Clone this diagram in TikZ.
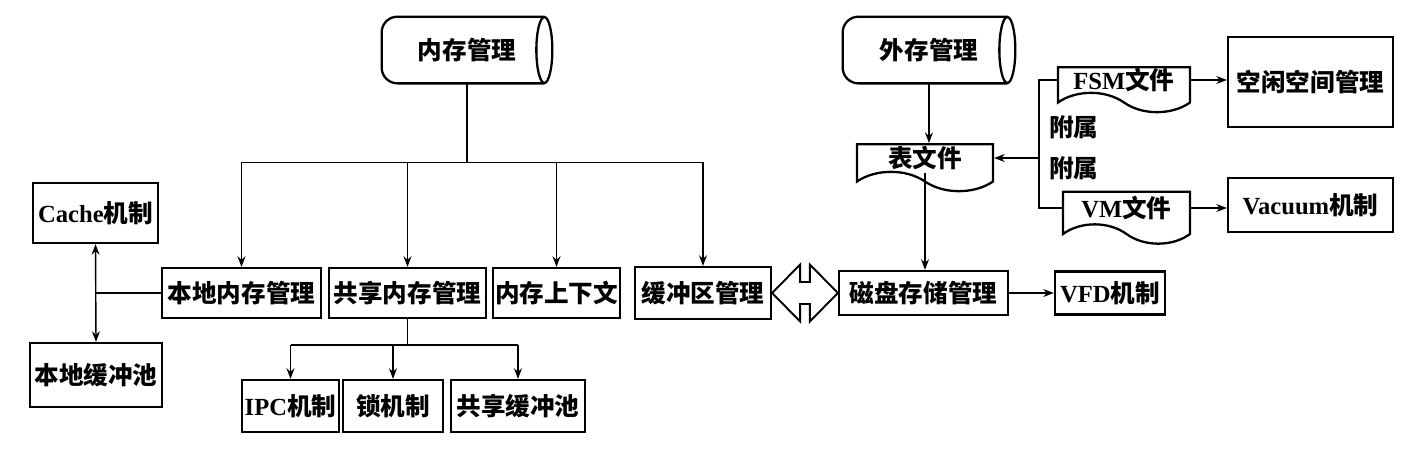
\documentclass[tikz,border=0pt]{standalone}
\usepackage{fontspec}
\setmainfont{Noto Sans CJK SC}
\newfontfamily\enfont{Liberation Serif}
\newcommand{\en}[1]{{\enfont #1}}
\usetikzlibrary{shapes.symbols,arrows.meta,calc}

% 圆柱轮廓
\newcommand{\drumline}[1]{%
    \draw[line width=1.3pt, rounded corners=9pt] ($(#1.north east)+(-8,0)$) -- (#1.north west)
        -- (#1.south west) -- ($(#1.south east)+(-8,0)$);
    \draw[line width=1.3pt] ($(#1.east)+(-8,0)$) ellipse [x radius=0.16cm, y radius=0.66cm];}

\begin{document}
\begin{tikzpicture}[x=0.02cm,y=-0.02cm,
    sz/.style 2 args={minimum width=#1*0.02cm, minimum height=#2*0.02cm},
    txt/.style={font=\fontsize{14}{16}\selectfont\bfseries},
    box/.style={txt, draw, line width=1.3pt, inner sep=0pt},
    drum/.style={txt, inner sep=0pt},
    doc/.style={box, tape, tape bend top=none, tape bend bottom=out and in, tape bend height=11pt},
    line/.style={line width=0.8pt},
    arr/.style={line, -{Stealth[length=6pt,width=4.5pt]}},
    dblarr/.style={line, {Stealth[length=6pt,width=4.5pt]}-{Stealth[length=6pt,width=4.5pt]}}]
    \useasboundingbox (0,0) rectangle (1418,458);

    % 内存
    \node[drum, sz={170}{66}] (memcyl) at (467,50) {内存管理};
    \drumline{memcyl}
    \node[box, sz={159}{50}] (local)  at (241.5,293) {本地内存管理};
    \node[box, sz={157}{50}] (shared) at (407.5,293) {共享内存管理};
    \node[box, sz={127}{50}] (ctx)    at (556.5,293) {内存上下文};
    \node[box, sz={136}{52}] (buf)    at (703,293)   {缓冲区管理};
    \node[box, sz={125}{60}] (cache)  at (95.5,213)  {\en{Cache}机制};
    \node[box, sz={132}{64}] (lpool)  at (96,375)    {本地缓冲池};
    \node[box, sz={97}{52}]  (ipc)    at (290.5,406) {\en{IPC}机制};
    \node[box, sz={100}{52}] (lock)   at (393,406)   {锁机制};
    \node[box, sz={134}{52}] (spool)  at (518,406)   {共享缓冲池};

    \coordinate (membus) at ($(memcyl.south)+(0,79)$);
    \draw[line] (memcyl.south) -- (membus);
    \draw[line] (local.north |- membus) -- (buf.north |- membus);
    \foreach \n in {local, shared, ctx, buf} {
        \draw[arr] (\n.north |- membus) -- (\n.north);
    }

    \coordinate (lj) at (cache.south |- local.west);
    \draw[line] (local.west) -- (lj);
    \draw[dblarr] (cache.south) -- (lpool.north);

    \coordinate (sbus) at ($(shared.south)+(0,26)$);
    \draw[line] (shared.south) -- (sbus);
    \draw[line] (ipc.north |- sbus) -- (spool.north |- sbus);
    \foreach \n in {ipc, lock, spool} {
        \draw[arr] (\n.north |- sbus) -- (\n.north);
    }

    % 外存
    \node[drum, sz={172}{66}] (extcyl) at (929,50) {外存管理};
    \drumline{extcyl}
    \node[doc, sz={136}{47}] (table) at (925,158) {表文件};
    \node[doc, sz={132}{45}] (fsm)   at (1124,80) {\en{FSM}文件};
    \node[doc, sz={127}{52}] (vm)    at (1126.5,208) {\en{VM}文件};
    \node[box, sz={165}{90}] (free)  at (1310.5,82) {空闲空间管理};
    \node[box, sz={165}{54}] (vac)   at (1310.5,205) {\en{Vacuum}机制};
    \node[box, sz={169}{44}] (disk)  at (923.5,293) {磁盘存储管理};
    \node[box, sz={110}{43}] (vfd)   at (1110,293) {\en{VFD}机制};
    \node[txt, anchor=west] (attA) at (1043,127) {附属};
    \node[txt, anchor=west] (attB) at (1043,168) {附属};

    \coordinate (rb) at (1039,158);
    \draw[arr] (extcyl.south) -- (extcyl.south |- table.north);
    \draw[arr] (table.south) -- (table.south |- disk.north);
    \draw[line] (fsm.west) -| (rb) |- (vm.west);
    \draw[arr] (rb) -- (table.east);
    \draw[arr] (fsm.east) -- (fsm.east -| free.west);
    \draw[arr] (vm.east) -- (vm.east -| vac.west);
    \draw[arr] (disk.east) -- (vfd.west);

    % 双向空心箭头
    \draw[line width=1.1pt] (buf.east) -- ++(28,-28.5) -- ++(0,17.5)
        -- ($(disk.west)+(-28,-11)$) -- ++(0,-17.5) -- (disk.west)
        -- ++(-28,28.5) -- ++(0,-17.5) -- ($(buf.east)+(28,11)$)
        -- ++(0,17.5) -- cycle;
\end{tikzpicture}
\end{document}
